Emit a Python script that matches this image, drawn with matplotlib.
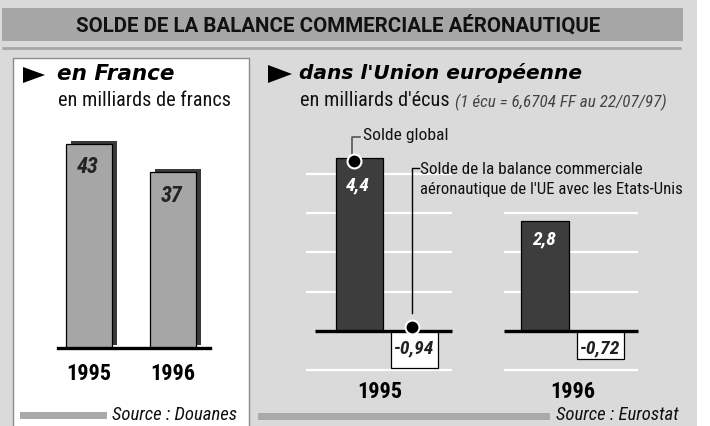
import matplotlib.pyplot as plt
from matplotlib import patheffects, font_manager
from matplotlib.patches import Rectangle, Polygon
from matplotlib.transforms import ScaledTranslation

# data
fr_years = ['1995', '1996']
fr_values = [43, 37]
ue_years = ['1995', '1996']
ue_global = [4.4, 2.8]
ue_usa = [-0.94, -0.72]
grid_levels = [[-1, 1, 2, 3, 4], [-1, 1, 2, 3]]

W, H = 710, 426
BG = '#dadada'

# pick a condensed family if one is installed
names = {f.name for f in font_manager.fontManager.ttflist}
cond_names = set()
for f in font_manager.fontManager.ttflist:
    st = f.stretch
    if isinstance(st, str):
        st = font_manager.stretch_dict.get(st, 500)
    if st <= 400:
        cond_names.add(f.name)
NARROW_FAM, STRETCH = 'Liberation Sans', 'normal'
for n in ['Liberation Sans Narrow', 'Roboto Condensed', 'Open Sans Condensed',
          'Noto Sans Condensed', 'DejaVu Sans Condensed', 'Arial Narrow',
          'Nimbus Sans Narrow', 'PT Sans Narrow', 'Ubuntu Condensed',
          'Fira Sans Condensed', 'IBM Plex Sans Condensed', 'Archivo Narrow',
          'Barlow Condensed', 'Asap Condensed', 'Encode Sans Condensed']:
    if n in names:
        NARROW_FAM = n
        break
else:
    for n in ['Roboto', 'Noto Sans', 'Open Sans', 'DejaVu Sans', 'Liberation Sans']:
        if n in cond_names:
            NARROW_FAM, STRETCH = n, 'condensed'
            break
NARROW = [NARROW_FAM, 'DejaVu Sans']
WIDE = ['DejaVu Sans']
TITLE = ['Roboto', 'Liberation Sans', 'DejaVu Sans']
NK = dict(family=NARROW, fontstretch=STRETCH)

fig = plt.figure(figsize=(W / 100, H / 100), dpi=100)
fig.patch.set_facecolor('white')


def px_axes(x0, y0, x1, y1, z=1):
    ax = fig.add_axes([x0 / W, 1 - y1 / H, (x1 - x0) / W, (y1 - y0) / H])
    ax.set_zorder(z)
    ax.patch.set_alpha(0)
    return ax


def fr_num(v, nd):
    return f'{v:.{nd}f}'.replace('.', ',')


# background / frame
bg = px_axes(0, 0, W, H, 0)
bg.set_xlim(0, W)
bg.set_ylim(H, 0)
bg.axis('off')
bg.add_patch(Rectangle((0, 0), 697, H, fc=BG, ec='none'))
bg.add_patch(Rectangle((2, 8), 681, 33, fc='#a6a6a6', ec='none'))
bg.plot([2, 681], [48, 48], color='#a6a6a6', lw=2, solid_capstyle='butt')
bg.text(338, 25, 'SOLDE DE LA BALANCE COMMERCIALE AÉRONAUTIQUE', ha='center',
        va='center', fontsize=14.8, fontweight='bold', color='#111111', family=TITLE)
bg.add_patch(Rectangle((13, 58), 236, 372, fc='white', ec='#8c8c8c', lw=1))

bg.add_patch(Polygon([(23, 67), (23, 83), (45, 75)], closed=True, fc='black', ec='none'))
bg.add_patch(Polygon([(268, 65), (268, 83), (292, 74)], closed=True, fc='black', ec='none'))

bg.text(57, 74, 'en France', ha='left', va='center', fontsize=15.5,
        fontweight='bold', style='italic', family=WIDE)
bg.text(58, 100, 'en milliards de francs', ha='left', va='center',
        fontsize=14.6, color='#111111', **NK)
bg.text(299, 73, "dans l'Union européenne", ha='left', va='center',
        fontsize=14.5, fontweight='bold', style='italic', family=WIDE)
bg.text(300, 101, "en milliards d'écus", ha='left', va='center',
        fontsize=14.6, color='#111111', **NK)
bg.text(455, 102, '(1 écu = 6,6704 FF au 22/07/97)', ha='left', va='center',
        fontsize=12.3, style='italic', color='#444444', **NK)

# sources
bg.add_patch(Rectangle((20, 412), 87, 7, fc='#aaaaaa', ec='none'))
bg.text(112, 415, 'Source : Douanes', ha='left', va='center', fontsize=13.5,
        style='italic', color='#111111', **NK)
bg.add_patch(Rectangle((258, 413), 292, 7, fc='#aaaaaa', ec='none'))
bg.text(556, 415, 'Source : Eurostat', ha='left', va='center', fontsize=13.5,
        style='italic', color='#111111', **NK)

# left chart: France
ax1 = px_axes(58, 120, 210, 348)
fx = list(range(len(fr_values)))
bars = ax1.bar(fx, fr_values, width=0.548, color='#a6a6a6', edgecolor='black',
               linewidth=0.9, zorder=2)
for b in bars:
    b.set_path_effects([
        patheffects.withSimplePatchShadow(offset=(3.6, 2.2), shadow_rgbFace='#3a3a3a', alpha=1),
    ])
for x, v in zip(fx, fr_values):
    ax1.annotate(str(v), (x, v), xytext=(-1, -9), textcoords='offset points',
                 ha='center', va='top', fontsize=16, fontweight='bold',
                 style='italic', color='#222222', **NK)
ax1.set_xlim(-0.369, 1.44)
ax1.set_ylim(0, 48)
ax1.axhline(0, color='black', lw=2.4, zorder=3, clip_on=False)
ax1.set_xticks(fx, fr_years)
ax1.tick_params(axis='x', length=0, pad=11, labelsize=16)
for t in ax1.get_xticklabels():
    t.set_family(NARROW)
    t.set_fontstretch(STRETCH)
    t.set_fontweight('bold')
ax1.set_yticks([])
for s in ax1.spines.values():
    s.set_visible(False)

# right chart: UE
ax2 = px_axes(300, 120, 645, 380)
gx = list(range(len(ue_global)))
off = 0.149
bw = 0.254
ax2.bar([g - off for g in gx], ue_global, width=bw, color='#3d3d3d',
        edgecolor='black', linewidth=0.9, zorder=3)
ax2.bar([g + off for g in gx], ue_usa, width=bw, color='white',
        edgecolor='black', linewidth=0.9, zorder=3)

grid_spans = [(-0.438, 0.351), (-0.37, 0.354)]
base_spans = [(-0.389, 0.351), (-0.37, 0.354)]
for g, levels, (a, b), (c, d) in zip(gx, grid_levels, grid_spans, base_spans):
    ax2.hlines(levels, g + a, g + b, colors='white', lw=1.6, zorder=1)
    ax2.hlines(0, g + c, g + d, colors='black', lw=2.4, zorder=4)

top_off = [27, 18]
for g, v, o in zip(gx, ue_global, top_off):
    ax2.annotate(fr_num(v, 1), (g - off, v), xytext=(-1, -o * 0.72),
                 textcoords='offset points', ha='center', va='center',
                 fontsize=14, fontweight='bold', style='italic',
                 color='white', zorder=5, **NK)
for g, v in zip(gx, ue_usa):
    ax2.annotate(fr_num(v, 2), (g + off, 0), xytext=(-1, -12.5),
                 textcoords='offset points', ha='center', va='center',
                 fontsize=14, fontweight='bold', style='italic',
                 color='#222222', zorder=5, **NK)

# annotations (1995 group)
ax2.plot([gx[0] - off - 0.03], [ue_global[0] - 0.07], 'o', ms=10, color='black',
         mec='white', mew=1.5, zorder=6, clip_on=False)
ax2.plot([gx[0] - off - 0.04, gx[0] - off - 0.04, gx[0] - off - 0.0],
         [4.5, 4.94, 4.94], color='#555555', lw=1.2, zorder=5, clip_on=False)
ax2.text(gx[0] - off + 0.02, 4.98, 'Solde global', ha='left', va='center',
         fontsize=12.6, color='#111111', **NK)

ax2.plot([gx[0] + off - 0.014], [0.1], 'o', ms=10, color='black',
         mec='white', mew=1.5, zorder=6)
ax2.plot([gx[0] + off - 0.014, gx[0] + off - 0.014, gx[0] + off + 0.02],
         [0.46, 4.15, 4.15], color='black', lw=1, zorder=5)
ax2.text(gx[0] + off + 0.03, 4.1, 'Solde de la balance commerciale',
         ha='left', va='center', fontsize=12.3, color='#111111', **NK)
ax2.text(gx[0] + off + 0.03, 3.6, "aéronautique de l'UE avec les Etats-Unis",
         ha='left', va='center', fontsize=12.1, color='#111111', **NK)

ax2.set_xlim(-0.47, 1.39)
ax2.set_ylim(-1.247, 5.369)
ax2.set_xticks(gx, ue_years)
ax2.tick_params(axis='x', length=0, pad=1, labelsize=16)
for t in ax2.get_xticklabels():
    t.set_family(NARROW)
    t.set_fontstretch(STRETCH)
    t.set_fontweight('bold')
lab0 = ax2.get_xticklabels()[0]
lab0.set_transform(lab0.get_transform() + ScaledTranslation(-0.07, 0, fig.dpi_scale_trans))
ax2.set_yticks([])
for s in ax2.spines.values():
    s.set_visible(False)

fig.savefig('out.png', dpi=100)
